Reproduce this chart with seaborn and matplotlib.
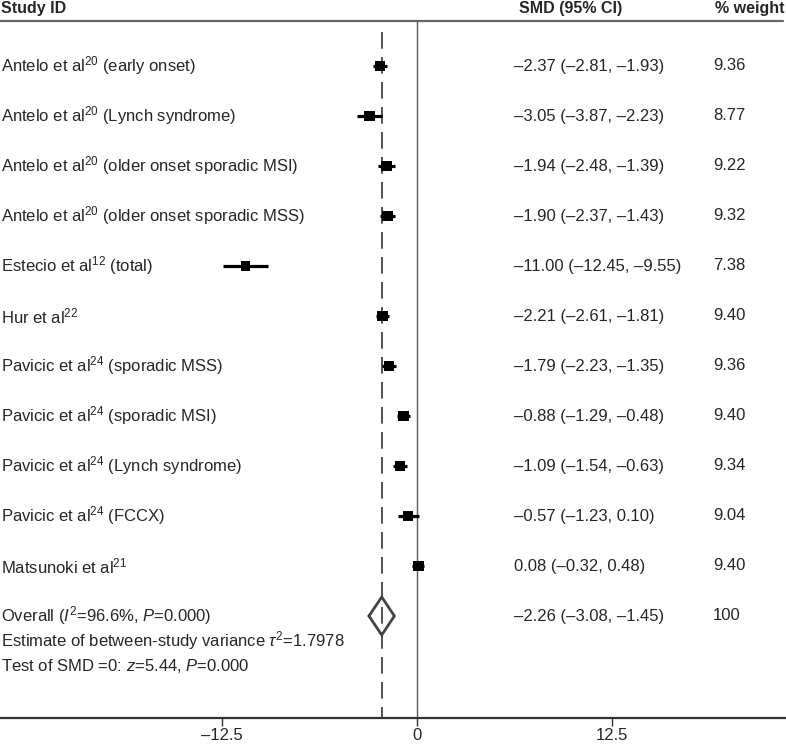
import matplotlib
matplotlib.use("Agg")
import matplotlib.pyplot as plt
import matplotlib.transforms as mtransforms
import seaborn as sns
import pandas as pd

# ---------------- data ----------------
studies = [
    "Antelo et al$^{20}$ (early onset)",
    "Antelo et al$^{20}$ (Lynch syndrome)",
    "Antelo et al$^{20}$ (older onset sporadic MSI)",
    "Antelo et al$^{20}$ (older onset sporadic MSS)",
    "Estecio et al$^{12}$ (total)",
    "Hur et al$^{22}$",
    "Pavicic et al$^{24}$ (sporadic MSS)",
    "Pavicic et al$^{24}$ (sporadic MSI)",
    "Pavicic et al$^{24}$ (Lynch syndrome)",
    "Pavicic et al$^{24}$ (FCCX)",
    "Matsunoki et al$^{21}$",
]
smd = [-2.37, -3.05, -1.94, -1.90, -11.00, -2.21, -1.79, -0.88, -1.09, -0.57, 0.08]
ci_low = [-2.81, -3.87, -2.48, -2.37, -12.45, -2.61, -2.23, -1.29, -1.54, -1.23, -0.32]
ci_high = [-1.93, -2.23, -1.39, -1.43, -9.55, -1.81, -1.35, -0.48, -0.63, 0.10, 0.48]
weights = [9.36, 8.77, 9.22, 9.32, 7.38, 9.40, 9.36, 9.40, 9.34, 9.04, 9.40]

overall_label = "Overall ($I^{2}$=96.6%, $P$=0.000)"
overall_est, overall_low, overall_high, overall_weight = -2.26, -3.08, -1.45, "100"
extra_lines = ["Estimate of between-study variance $\\tau^{2}$=1.7978",
               "Test of SMD =0: $z$=5.44, $P$=0.000"]

xticks = [-12.5, 0, 12.5]
xtick_labels = ["\u201312.5", "0", "12.5"]
headers = ["Study ID", "SMD (95% CI)", "% weight"]


def fmt(v):
    s = f"{abs(v):.2f}"
    return ("\u2013" + s) if v < 0 else s


# ---------------- style ----------------
sns.set_theme(style="white")
plt.rcParams["font.family"] = ["Liberation Sans", "DejaVu Sans"]
plt.rcParams["mathtext.fontset"] = "custom"
plt.rcParams["mathtext.rm"] = "Liberation Sans"
plt.rcParams["mathtext.it"] = "Liberation Sans:italic"
plt.rcParams["mathtext.bf"] = "Liberation Sans:bold"

FS = 12
HFS = 11.5
W, H = 786, 746
fig = plt.figure(figsize=(W / 100, H / 100), dpi=100)
axis_px = 718
ax = fig.add_axes([0, (H - axis_px) / H, 1, axis_px / H])

px_per_unit = 15.6
x0_px = 417
ax.set_xlim(-x0_px / px_per_unit, (W - x0_px) / px_per_unit)
row0_px, row_step = 66, 50
ax.set_ylim((axis_px - row0_px) / row_step, -row0_px / row_step)

df = pd.DataFrame({"study": studies, "smd": smd, "lo": ci_low, "hi": ci_high,
                   "w": weights, "row": list(range(len(studies)))})

# CI lines
ax.hlines(df["row"], df["lo"], df["hi"], color="black", lw=2.3, zorder=3)
# weighted squares
sns.scatterplot(data=df, x="smd", y="row", size="w", sizes=(0, 60), size_norm=(0, 9.40),
                marker="s", color="black", linewidth=0, legend=False, ax=ax, zorder=4)

orow = len(studies)
h = 19 / row_step
ax.plot([overall_low, overall_est, overall_high, overall_est, overall_low],
        [orow, orow - h, orow, orow + h, orow], color="#444444", lw=2.0, zorder=4,
        solid_joinstyle="miter")

top_dash = (32 - row0_px) / row_step
header_line = (21 - row0_px) / row_step
ybot = (axis_px - row0_px) / row_step
ax.vlines(overall_est, top_dash, ybot, color="#333333", lw=1.2, linestyles=(0, (10, 5)), zorder=2)
ax.vlines(0, header_line, ybot, color="#555555", lw=1.0, zorder=2)
ax.axhline(header_line, xmin=0, xmax=783 / W, color="#666666", lw=1.6)

# texts
tr = mtransforms.blended_transform_factory(ax.transAxes, ax.transData)
col_study, col_smd, col_w = 1 / W, 514 / W, 713 / W
hy = (8 - row0_px) / row_step
ax.text(col_study, hy, headers[0], transform=tr, fontsize=HFS, fontweight="bold", va="center")
ax.text(519 / W, hy, headers[1], transform=tr, fontsize=HFS, fontweight="bold", va="center")
ax.text(715 / W, hy, headers[2], transform=tr, fontsize=HFS, fontweight="bold", va="center")

for i, r in df.iterrows():
    ax.text(col_study, r["row"], r["study"], transform=tr, fontsize=FS, va="center")
    ax.text(col_smd, r["row"], f"{fmt(r['smd'])} ({fmt(r['lo'])}, {fmt(r['hi'])})",
            transform=tr, fontsize=FS, va="center")
    ax.text(col_w, r["row"], f"{r['w']:.2f}", transform=tr, fontsize=FS, va="center")

ax.text(col_study, orow, overall_label, transform=tr, fontsize=FS, va="center")
ax.text(col_smd, orow, f"{fmt(overall_est)} ({fmt(overall_low)}, {fmt(overall_high)})",
        transform=tr, fontsize=FS, va="center")
ax.text(col_w, orow, overall_weight, transform=tr, fontsize=FS, va="center")
for k, t in enumerate(extra_lines):
    ax.text(col_study, orow + 0.5 * (k + 1), t, transform=tr, fontsize=FS, va="center")

# axis
for s in ["top", "left", "right"]:
    ax.spines[s].set_visible(False)
ax.spines["bottom"].set_color("#333333")
ax.spines["bottom"].set_linewidth(1.6)
ax.set_xticks(xticks)
ax.set_xticklabels(xtick_labels, fontsize=FS)
ax.tick_params(axis="x", direction="out", length=6, width=1, color="#333333", pad=1.5,
               bottom=True)
ax.set_yticks([])
ax.set_xlabel("")
ax.set_ylabel("")

fig.savefig("out.png", dpi=100)
